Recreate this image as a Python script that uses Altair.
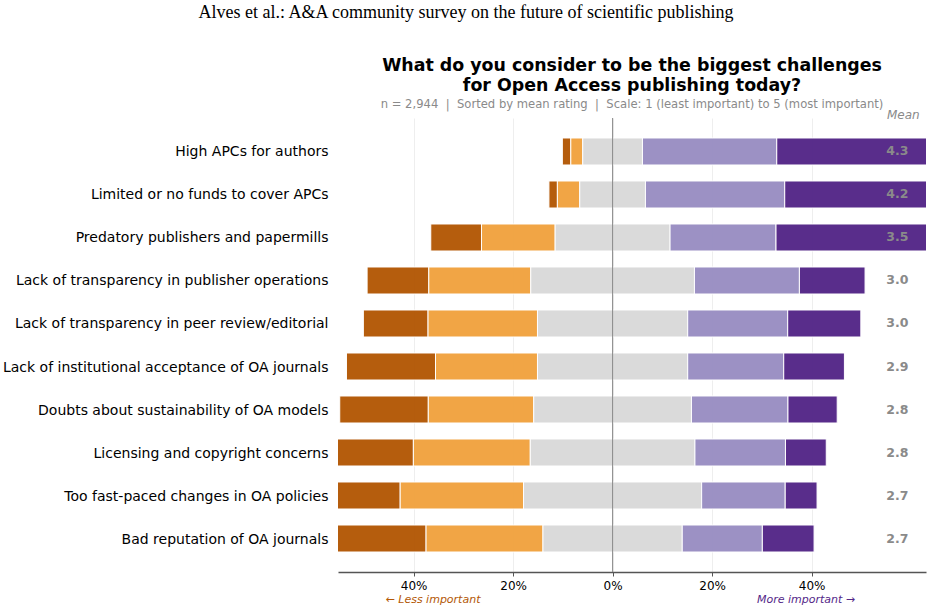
import altair as alt
import pandas as pd

# Survey items, top to bottom (sorted by mean rating)
challenges = [
    "High APCs for authors",
    "Limited or no funds to cover APCs",
    "Predatory publishers and papermills",
    "Lack of transparency in publisher operations",
    "Lack of transparency in peer review/editorial",
    "Lack of institutional acceptance of OA journals",
    "Doubts about sustainability of OA models",
    "Licensing and copyright concerns",
    "Too fast-paced changes in OA policies",
    "Bad reputation of OA journals",
]

# Share of respondents (%) giving each rating, 1 = least important ... 5 = most important
rating_1 = [1.7, 1.7, 10.2, 12.4, 13.0, 17.9, 17.8, 17.0, 16.2, 22.0]
rating_2 = [2.4, 4.5, 14.8, 20.5, 22.0, 20.5, 21.2, 23.5, 24.8, 23.5]
rating_3 = [12.0, 13.2, 23.1, 32.9, 30.2, 30.2, 31.7, 33.1, 35.8, 28.0]
rating_4 = [27.0, 28.0, 21.3, 21.1, 20.1, 19.3, 19.4, 18.2, 16.8, 16.1]
rating_5 = [56.9, 52.6, 30.6, 13.2, 14.7, 12.2, 9.9, 8.2, 6.4, 10.4]

mean_rating = [4.3, 4.2, 3.5, 3.0, 3.0, 2.9, 2.8, 2.8, 2.7, 2.7]

levels = ["1", "2", "3", "4", "5"]
level_colors = ["#b35806", "#f1a340", "#d9d9d9", "#998ec3", "#542788"]

# Diverging layout: the neutral segment is centred on zero
rows = []
for i, name in enumerate(challenges):
    shares = [rating_1[i], rating_2[i], rating_3[i], rating_4[i], rating_5[i]]
    start = -(shares[0] + shares[1] + shares[2] / 2)
    for lvl, share in zip(levels, shares):
        rows.append({"challenge": name, "level": lvl, "start": start, "end": start + share})
        start += share
bars_df = pd.DataFrame(rows)
means_df = pd.DataFrame({"challenge": challenges, "mean": mean_rating})

W, H = 588, 454
FONT = "DejaVu Sans"
NBSP = "\u00a0"

x_scale = alt.Scale(domain=[-55.2, 63.0], nice=False, zero=False)
y_scale = alt.Scale(domain=challenges, paddingInner=0.372, paddingOuter=0.465)

bars = alt.Chart(bars_df).mark_bar(
    stroke="white", strokeWidth=1, opacity=0.97, clip=True
).encode(
    x=alt.X(
        "start:Q",
        scale=x_scale,
        axis=alt.Axis(
            values=[-40, -20, 0, 20, 40],
            labelExpr="abs(datum.value) + '%'",
            title=None,
            grid=True,
            gridColor="#eeeeee",
            gridWidth=1,
            domainColor="#555555",
            domainWidth=1.5,
            tickColor="#555555",
            tickSize=4,
            labelFontSize=12,
            labelColor="black",
            labelFont=FONT,
            labelPadding=4,
        ),
    ),
    x2="end:Q",
    y=alt.Y(
        "challenge:N",
        sort=challenges,
        scale=y_scale,
        axis=alt.Axis(
            title=None,
            labelFontSize=14,
            labelColor="black",
            labelFont=FONT,
            labelPadding=10,
            labelOffset=1,
            ticks=False,
            domain=False,
            labelLimit=500,
        ),
    ),
    color=alt.Color("level:N", scale=alt.Scale(domain=levels, range=level_colors), legend=None),
)

zero_line = alt.Chart(pd.DataFrame({"x": [0]})).mark_rule(
    color="#888888", strokeWidth=1
).encode(x=alt.X("x:Q", scale=x_scale))

mean_labels = alt.Chart(means_df).mark_text(
    align="left", baseline="middle", fontWeight="bold", fontSize=12.5, color="#8a8a8a", font=FONT
).encode(
    x=alt.datum(55.0, scale=x_scale),
    y=alt.Y("challenge:N", sort=challenges, scale=y_scale),
    text=alt.Text("mean:Q", format=".1f"),
)


def note(text, x, y, **style):
    return alt.Chart(pd.DataFrame({"t": [text]})).mark_text(**style).encode(
        x=alt.value(x), y=alt.value(y), text="t:N"
    )


sep = NBSP * 2 + "|" + NBSP * 2

header = note(
    "Alves et al.: A&A community survey on the future of scientific publishing",
    128, -100, font="Liberation Serif", fontSize=18, color="black", align="center", baseline="alphabetic",
)
title_1 = note(
    "What do you consider to be the biggest challenges",
    294, -47, font=FONT, fontSize=17.4, fontWeight="bold", color="black", align="center", baseline="alphabetic",
)
title_2 = note(
    "for Open Access publishing today?",
    294, -27, font=FONT, fontSize=17.4, fontWeight="bold", color="black", align="center", baseline="alphabetic",
)
subtitle = note(
    "n = 2,944" + sep + "Sorted by mean rating" + sep + "Scale: 1 (least important) to 5 (most important)",
    294, -10, font=FONT, fontSize=11.6, color="#8a8a8a", align="center", baseline="alphabetic",
)
mean_head = note(
    "Mean", 549, 1, font=FONT, fontSize=12, fontStyle="italic", color="#8a8a8a", align="left", baseline="alphabetic",
)
less_note = note(
    "\u2190 Less important", 95, H + 31, font=FONT, fontSize=11, fontStyle="italic", color="#b35806",
    align="center", baseline="alphabetic",
)
more_note = note(
    "More important \u2192", 468, H + 31, font=FONT, fontSize=11, fontStyle="italic", color="#542788",
    align="center", baseline="alphabetic",
)

chart = alt.layer(
    bars, zero_line, mean_labels, header, title_1, title_2, subtitle, mean_head, less_note, more_note
).properties(
    width=W,
    height=H,
    autosize=alt.AutoSizeParams(type="none"),
    padding={"left": 338, "top": 118, "right": 9, "bottom": 43},
    background="white",
).configure_view(stroke=None)

chart.save("out.html", embed_options={"renderer": "svg", "actions": False})
